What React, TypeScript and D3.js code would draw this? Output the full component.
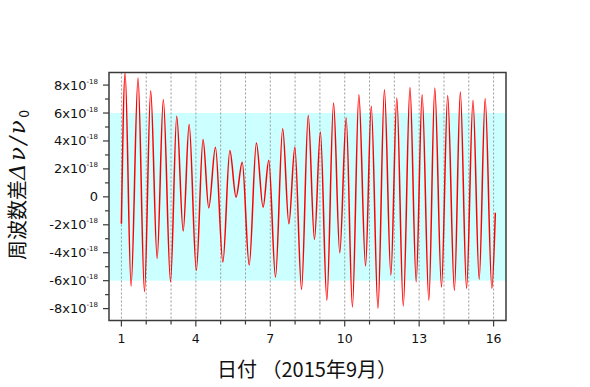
import React, { useEffect, useRef } from 'react';
import * as d3 from 'd3';

// day of September 2015
const majorDays = [1, 4, 7, 10, 13, 16];
const allDays = [1, 2, 3, 4, 5, 6, 7, 8, 9, 10, 11, 12, 13, 14, 15, 16];
// frequency difference, in units of 1e-18
const yMajor = [-8, -6, -4, -2, 0, 2, 4, 6, 8];
const yMinor = [-8, -7, -6, -5, -4, -3, -2, -1, 0, 1, 2, 3, 4, 5, 6, 7, 8];
const bandRange = [-6, 6];

const curveDay = [
  1.0, 1.15, 1.39, 1.67, 1.93, 2.18, 2.44, 2.69, 2.98, 3.23, 3.49, 3.73, 4.02, 4.29,
  4.52, 4.79, 5.09, 5.37, 5.62, 5.87, 6.15, 6.44, 6.71, 6.94, 7.21, 7.5, 7.75, 7.99,
  8.26, 8.53, 8.78, 9.02, 9.28, 9.55, 9.8, 10.06, 10.31, 10.57, 10.84, 11.07, 11.34,
  11.6, 11.86, 12.1, 12.36, 12.63, 12.88, 13.12, 13.39, 13.63, 13.9, 14.15, 14.42,
  14.66, 14.91, 15.17, 15.42, 15.66, 15.93, 16.07,
];
const curveValue = [
  -1.93, 8.86, -6.38, 8.5, -6.79, 7.6, -4.4, 6.95, -6.07, 5.76, -2.45, 5.17, -5.26, 4.1,
  -0.79, 3.55, -4.67, 3.31, -0.02, 2.48, -4.88, 3.86, -0.74, 2.62, -5.74, 4.88, -1.93, 3.55,
  -6.62, 5.83, -3.05, 4.64, -7.4, 6.71, -4.0, 5.64, -7.88, 7.31, -4.95, 6.48, -7.98,
  7.67, -5.6, 7.07, -7.81, 7.83, -6.07, 7.31, -7.4, 7.79, -6.45, 7.26, -6.69,
  7.5, -6.55, 6.9, -5.9, 7.02, -6.55, -1.14,
];

const W = 590;
const H = 387;
const plot = { left: 109, right: 506, top: 72.5, bottom: 320.5 };
const font = '"DejaVu Sans", Verdana, sans-serif';
const frameColor = '#3a3a3a';

const App = () => {
  const svgRef = useRef<SVGSVGElement>(null);

  useEffect(() => {
    const svg = d3.select(svgRef.current);
    svg.selectAll('*').remove();

    const x = d3.scaleLinear().domain([0.5, 16.5]).range([plot.left, plot.right]);
    const y = d3.scaleLinear().domain([-8.85, 8.9]).range([plot.bottom, plot.top]);

    svg.append('rect')
      .attr('width', W).attr('height', H).attr('fill', '#fff');

    // cyan band
    svg.append('rect')
      .attr('x', plot.left)
      .attr('y', y(bandRange[1]))
      .attr('width', plot.right - plot.left)
      .attr('height', y(bandRange[0]) - y(bandRange[1]))
      .attr('fill', '#ccffff');

    // daily dotted grid
    svg.append('g')
      .selectAll('line')
      .data(allDays)
      .enter().append('line')
      .attr('x1', d => x(d)).attr('x2', d => x(d))
      .attr('y1', plot.top).attr('y2', plot.bottom)
      .attr('stroke', '#9a9a9a')
      .attr('stroke-width', 1)
      .attr('stroke-dasharray', '2,2');

    // curve
    const pts = curveDay.map((d, i) => [d, curveValue[i]] as [number, number]);
    const line = d3.line<[number, number]>()
      .x(d => x(d[0]))
      .y(d => y(d[1]))
      .curve(d3.curveMonotoneX);
    svg.append('path')
      .attr('d', line(pts))
      .attr('fill', 'none')
      .attr('stroke', '#ff0000')
      .attr('stroke-width', 1.5);

    // frame
    svg.append('rect')
      .attr('x', plot.left).attr('y', plot.top)
      .attr('width', plot.right - plot.left)
      .attr('height', plot.bottom - plot.top)
      .attr('fill', 'none')
      .attr('stroke', frameColor)
      .attr('stroke-width', 1.5);

    // y ticks
    const yt = svg.append('g').attr('stroke', frameColor).attr('stroke-width', 1.2);
    yMinor.forEach(v => {
      const major = yMajor.includes(v);
      yt.append('line')
        .attr('x1', plot.left - (major ? 6 : 4)).attr('x2', plot.left)
        .attr('y1', y(v)).attr('y2', y(v));
    });
    yMajor.forEach(v => {
      const t = svg.append('text')
        .attr('x', plot.left - 11)
        .attr('y', y(v) + 4.5)
        .attr('text-anchor', 'end')
        .attr('font-family', font)
        .attr('font-size', 13)
        .attr('fill', '#111');
      if (v === 0) {
        t.text('0');
      } else {
        t.append('tspan').text(`${v}x10`);
        t.append('tspan').attr('dy', -6).attr('font-size', 7).text('-18');
      }
    });

    // x ticks
    const xt = svg.append('g').attr('stroke', frameColor).attr('stroke-width', 1.2);
    allDays.forEach(d => {
      const major = majorDays.includes(d);
      xt.append('line')
        .attr('x1', x(d)).attr('x2', x(d))
        .attr('y1', plot.bottom).attr('y2', plot.bottom + (major ? 6 : 4));
    });
    svg.append('g')
      .selectAll('text')
      .data(majorDays)
      .enter().append('text')
      .attr('x', d => x(d))
      .attr('y', plot.bottom + 22)
      .attr('text-anchor', 'middle')
      .attr('font-family', font)
      .attr('font-size', 12.5)
      .attr('fill', '#111')
      .text(d => d);

    // axis titles
    svg.append('text')
      .attr('x', 307)
      .attr('y', 377)
      .attr('text-anchor', 'middle')
      .attr('font-family', '"Noto Sans CJK JP", sans-serif')
      .attr('font-size', 20)
      .attr('fill', '#111')
      .text('日付 （2015年9月）');

    const yt2 = svg.append('text')
      .attr('transform', `translate(25, 185) rotate(-90)`)
      .attr('text-anchor', 'middle')
      .attr('font-family', '"Noto Sans CJK JP", sans-serif')
      .attr('font-size', 20)
      .attr('fill', '#111');
    yt2.append('tspan').text('周波数差');
    yt2.append('tspan')
      .attr('font-style', 'italic')
      .attr('font-family', '"DejaVu Serif", serif')
      .attr('font-size', 23)
      .attr('letter-spacing', 2.5)
      .text('Δν/ν');
    yt2.append('tspan').attr('dy', 4).attr('font-size', 14).text('0');
  }, []);

  return (
    <svg
      ref={svgRef}
      width={W}
      height={H}
      style={{ position: 'absolute', left: 0, top: 0 }}
    />
  );
};

export default App;
